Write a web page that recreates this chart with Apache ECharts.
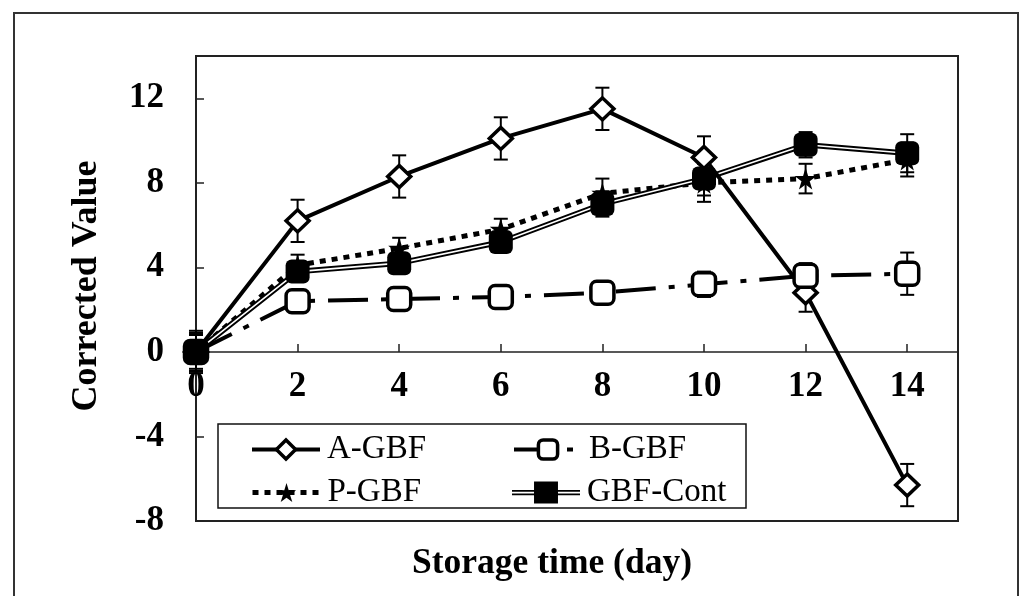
<!DOCTYPE html>
<html>
<head>
<meta charset="utf-8">
<script src="https://cdn.jsdelivr.net/npm/echarts@6/dist/echarts.min.js"></script>
<style>
html,body{margin:0;padding:0;background:#fff;}
#chart{width:1022px;height:596px;}
</style>
</head>
<body>
<div id="chart"></div>
<script>
// ---- data ----
const days = [0, 2, 4, 6, 8, 10, 12, 14];
const xTicks = [0, 2, 4, 6, 8, 10, 12, 14];
const yTicks = [-8, -4, 0, 4, 8, 12];
const aGBF = [0, 6.2, 8.3, 10.1, 11.5, 9.2, 2.8, -6.3];
const aErr = [1.0, 1.0, 1.0, 1.0, 1.0, 1.0, 0.9, 1.0];
const bGBF = [0, 2.4, 2.5, 2.6, 2.8, 3.2, 3.6, 3.7];
const bErr = [0.8, 0.4, 0.4, 0.4, 0.5, 0.6, 0.6, 1.0];
const pGBF = [0, 4.1, 4.9, 5.8, 7.5, 8.0, 8.2, 9.1];
const pErr = [0.9, 0.5, 0.5, 0.5, 0.7, 0.9, 0.7, 0.8];
const contGBF = [0, 3.8, 4.2, 5.2, 7.0, 8.2, 9.8, 9.4];
const contErr = [0.9, 0.3, 0.3, 0.4, 0.6, 0.8, 0.6, 0.9];
const seriesNames = ['A-GBF', 'B-GBF', 'P-GBF', 'GBF-Cont'];

const SERIF = '"Liberation Serif", "Times New Roman", serif';
const starPath = 'path://M50,0 L61,35 L98,35 L68,57 L79,91 L50,70 L21,91 L32,57 L2,35 L39,35 Z';
const contIcon = 'path://M0,9.5 L71,9.5 L71,11.3 L0,11.3 Z M0,13 L71,13 L71,14.8 L0,14.8 Z M23,0.5 L48,0.5 L48,23.5 L23,23.5 Z';

function pts(vals) { return days.map((d, i) => [d, vals[i]]); }

function errSeries(vals, errs) {
  return {
    type: 'custom', silent: true, z: 1,
    renderItem: function (params, api) {
      const x = api.value(0), lo = api.value(1), hi = api.value(2);
      const t = api.coord([x, hi]), b = api.coord([x, lo]);
      const hw = 7;
      const st = { stroke: '#000', lineWidth: 2 };
      return {
        type: 'group', children: [
          { type: 'line', shape: { x1: t[0], y1: t[1], x2: b[0], y2: b[1] }, style: st },
          { type: 'line', shape: { x1: t[0] - hw, y1: t[1], x2: t[0] + hw, y2: t[1] }, style: st },
          { type: 'line', shape: { x1: b[0] - hw, y1: b[1], x2: b[0] + hw, y2: b[1] }, style: st }
        ]
      };
    },
    encode: { x: 0, y: [1, 2] },
    data: days.map((d, i) => [d, vals[i] - errs[i], vals[i] + errs[i]])
  };
}

function legendAt(name, left, top, extra) {
  return Object.assign({
    data: [name], left: left, top: top, padding: 0,
    itemWidth: 68, itemHeight: 24, itemGap: 0,
    selectedMode: false,
    textStyle: { fontFamily: SERIF, fontSize: 33, color: '#000', padding: [0, 0, 0, 2] }
  }, extra);
}

const chart = echarts.init(document.getElementById('chart'));
chart.setOption({
  animation: false,
  backgroundColor: '#fff',
  grid: { left: 196, top: 56, right: 64, bottom: 75, show: true, borderColor: '#222', borderWidth: 2, backgroundColor: 'transparent' },
  xAxis: {
    type: 'value', min: 0, max: 15, interval: 2,
    offset: -169,
    axisLine: { onZero: false, lineStyle: { color: '#222', width: 1.5 } },
    axisTick: { inside: true, length: 8, lineStyle: { color: '#222', width: 1.5 } },
    splitLine: { show: false },
    axisLabel: {
      showMaxLabel: false, margin: 17, color: '#000', fontFamily: SERIF, fontWeight: 'bold', fontSize: 35,
      formatter: v => xTicks.indexOf(v) >= 0 ? String(v) : ''
    }
  },
  yAxis: {
    type: 'value', min: -8, max: 14, interval: 4,
    axisLine: { show: true, onZero: true, lineStyle: { color: '#222', width: 1.5 } },
    axisTick: { show: true, inside: true, length: 8, lineStyle: { color: '#222', width: 1.5 } },
    splitLine: { show: false },
    axisLabel: {
      showMaxLabel: false, margin: 32, color: '#000', fontFamily: SERIF, fontWeight: 'bold', fontSize: 35,
      formatter: v => yTicks.indexOf(v) >= 0 ? String(v) : ''
    }
  },
  legend: [
    legendAt(seriesNames[0], 250, 433, { lineStyle: { width: 4 }, itemStyle: { borderWidth: 3.5 } }),
    legendAt(seriesNames[1], 512, 433, { lineStyle: { width: 4 }, itemStyle: { borderWidth: 3.5 } }),
    legendAt(seriesNames[2], 250, 476, { lineStyle: { width: 5 }, itemStyle: { borderWidth: 0 } }),
    legendAt(seriesNames[3], 512, 476, { icon: contIcon, itemStyle: { color: '#000', borderWidth: 0 } })
  ],
  graphic: [
    { type: 'rect', z: 0, shape: { x: 14, y: 13, width: 1004, height: 640 }, style: { fill: 'none', stroke: '#333', lineWidth: 2 } },
    { type: 'rect', z: 0, shape: { x: 218, y: 424, width: 528, height: 84 }, style: { fill: '#fff', stroke: '#111', lineWidth: 1.5 } },
    { type: 'text', z: 5, x: 87, y: 286, rotation: Math.PI / 2,
      style: { text: 'Corrected Value', textAlign: 'center', textVerticalAlign: 'middle', fill: '#000', fontFamily: SERIF, fontWeight: 'bold', fontSize: 36 } },
    { type: 'text', z: 5, x: 552, y: 564,
      style: { text: 'Storage time (day)', textAlign: 'center', textVerticalAlign: 'middle', fill: '#000', fontFamily: SERIF, fontWeight: 'bold', fontSize: 35.5 } }
  ],
  series: [
    errSeries(aGBF, aErr),
    errSeries(bGBF, bErr),
    errSeries(pGBF, pErr),
    errSeries(contGBF, contErr),
    {
      name: seriesNames[2], type: 'line', data: pts(pGBF), z: 2,
      symbol: starPath, symbolSize: 22, showAllSymbol: true,
      lineStyle: { color: '#000', width: 5, type: [6, 6] },
      itemStyle: { color: '#000', borderWidth: 0 }
    },
    {
      name: seriesNames[3], type: 'line', data: pts(contGBF), z: 2,
      symbol: 'roundRect', symbolSize: 24, showSymbol: false,
      lineStyle: { color: '#000', width: 5.5 },
      itemStyle: { color: '#000' }
    },
    {
      name: '_contInner', type: 'line', data: pts(contGBF), z: 2, silent: true,
      symbol: 'none', lineStyle: { color: '#fff', width: 1.6 }
    },
    {
      name: seriesNames[0], type: 'line', data: pts(aGBF), z: 2,
      symbol: 'diamond', symbolSize: [23, 22], showAllSymbol: true,
      lineStyle: { color: '#000', width: 4 },
      itemStyle: { color: '#fff', borderColor: '#000', borderWidth: 3.5 }
    },
    {
      name: seriesNames[1], type: 'line', data: pts(bGBF), z: 2,
      symbol: 'roundRect', symbolSize: 23, showAllSymbol: true,
      lineStyle: { color: '#000', width: 4, type: [40, 13, 6, 13] },
      itemStyle: { color: '#fff', borderColor: '#000', borderWidth: 3.5 }
    },
    {
      name: '_contPts', type: 'scatter', data: pts(contGBF), z: 2, silent: true,
      symbol: 'roundRect', symbolSize: 24, itemStyle: { color: '#000', opacity: 1 }
    }
  ]
});
</script>
</body>
</html>
